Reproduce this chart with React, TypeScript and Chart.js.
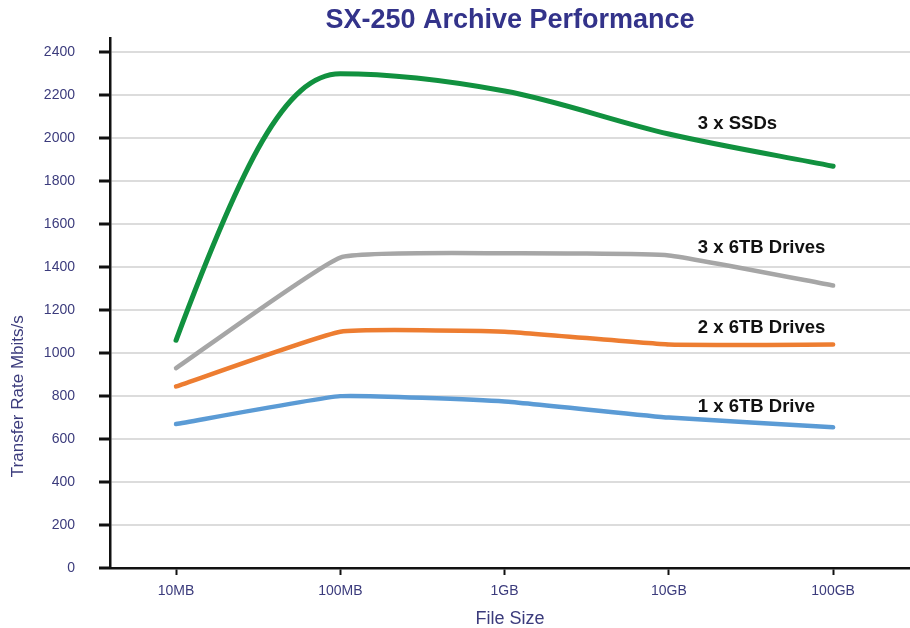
import React, { useEffect, useRef } from "react";
import { Chart, registerables } from "chart.js";

Chart.register(...registerables);

const categories = ["10MB", "100MB", "1GB", "10GB", "100GB"];
const ssd3 = [1060, 2300, 2220, 2020, 1870];
const hdd3 = [930, 1445, 1465, 1455, 1315];
const hdd2 = [845, 1100, 1100, 1040, 1040];
const hdd1 = [670, 800, 775, 700, 655];
const yTickValues = [0, 200, 400, 600, 800, 1000, 1200, 1400, 1600, 1800, 2000, 2200, 2400];
const seriesNames = ["3 x SSDs", "3 x 6TB Drives", "2 x 6TB Drives", "1 x 6TB Drive"];
const labelAnchors = [2065, 1488, 1116, 749];
const seriesColors = ["#11913f", "#a6a6a6", "#ed7d31", "#5b9bd5"];

const titleText = "SX-250 Archive Performance";
const xTitle = "File Size";
const yTitle = "Transfer Rate Mbits/s";

const FONT = "'Liberation Sans', Arial, Helvetica, sans-serif";
const NAVY = "#3b3b7c";

// Shapes the start of the smoothed SSD curve (steep launch, like the reference)
const curveShapePlugin = {
  id: "curveShape",
  beforeDatasetDraw(chart: any, args: any) {
    if (args.index !== 0) return;
    const line = args.meta.dataset;
    if (!line || !line.updateControlPoints) return;
    line.updateControlPoints(chart.chartArea, "x");
    const pts = line.points;
    if (!pts || pts.length < 2) return;
    const p0 = pts[0];
    const p1 = pts[1];
    const dx = p1.x - p0.x;
    const dy = p1.y - p0.y;
    p0.cp2x = p0.x + dx * 0.4;
    p0.cp2y = p0.y + dy * 0.66;
    line._path = undefined;
  },
};

const overlayPlugin = {
  id: "overlayText",
  afterDraw(chart: any) {
    const { ctx, chartArea, scales } = chart;
    ctx.save();
    ctx.font = `bold 18.5px ${FONT}`;
    ctx.fillStyle = "#111";
    ctx.textAlign = "left";
    ctx.textBaseline = "middle";
    const lx = scales.x.getPixelForValue(3) + 29;
    seriesNames.forEach((name, i) => {
      ctx.fillText(name, lx, scales.y.getPixelForValue(labelAnchors[i]));
    });
    ctx.translate(18, (chartArea.top + chartArea.bottom) / 2 + 93);
    ctx.rotate(-Math.PI / 2);
    ctx.font = `17px ${FONT}`;
    ctx.fillStyle = NAVY;
    ctx.textAlign = "center";
    ctx.textBaseline = "middle";
    ctx.fillText(yTitle, 0, 0);
    ctx.restore();
  },
};

export default function App() {
  const ref = useRef<HTMLCanvasElement | null>(null);

  useEffect(() => {
    if (!ref.current) return;
    Chart.defaults.font.family = FONT;
    const seriesData = [ssd3, hdd3, hdd2, hdd1];
    const chart = new Chart(ref.current, {
      type: "line",
      data: {
        datasets: seriesData.map((arr, i) => ({
          label: seriesNames[i],
          data: arr.map((v, j) => ({ x: j, y: v })),
          borderColor: seriesColors[i],
          backgroundColor: seriesColors[i],
          borderWidth: i === 0 ? 5 : 4.5,
          borderCapStyle: "round" as const,
          borderJoinStyle: "round" as const,
          pointRadius: 0,
          tension: i === 0 ? 0.4 : 0.12,
          cubicInterpolationMode: i === 0 ? ("monotone" as const) : ("default" as const),
          fill: false,
        })),
      },
      options: {
        animation: false,
        responsive: false,
        layout: { padding: 0 },
        plugins: {
          legend: { display: false },
          tooltip: { enabled: false },
          title: {
            display: true,
            text: titleText,
            color: "#33338a",
            fullSize: false,
            font: { family: FONT, size: 27, weight: "bold" },
            padding: { top: 4, bottom: 2 },
          },
        },
        scales: {
          x: {
            type: "linear",
            min: -0.402,
            max: 4.468,
            afterBuildTicks: (s: any) => {
              s.ticks = categories.map((_, i) => ({ value: i }));
            },
            afterFit: (s: any) => {
              s.height = 60;
            },
            ticks: {
              callback: (v: any) => categories[v as number] ?? "",
              color: NAVY,
              font: { size: 14 },
              padding: 8,
              autoSkip: false,
              maxRotation: 0,
            },
            grid: {
              drawOnChartArea: false,
              drawTicks: true,
              tickLength: 7,
              tickColor: "#111",
              tickWidth: 2,
            },
            border: { color: "#111", width: 2.5 },
            title: {
              display: true,
              text: xTitle,
              color: NAVY,
              font: { size: 18, lineHeight: 1 },
              padding: { top: 0, bottom: 0 },
            },
          },
          y: {
            min: 0,
            max: 2465,
            afterBuildTicks: (s: any) => {
              s.ticks = yTickValues.map((v) => ({ value: v }));
            },
            afterFit: (s: any) => {
              s.width = 110;
            },
            ticks: {
              callback: (v: any) => String(v),
              color: NAVY,
              font: { size: 14 },
              padding: 24,
            },
            grid: {
              color: "#dcdcdc",
              lineWidth: 2,
              tickLength: 11,
              tickColor: "#111",
              tickWidth: 3,
            },
            border: { color: "#111", width: 2.5 },
          },
        },
      } as any,
      plugins: [curveShapePlugin, overlayPlugin],
    });
    return () => chart.destroy();
  }, []);

  return (
    <div style={{ position: "fixed", left: 0, top: 0, width: 910, height: 628, background: "#fff" }}>
      <canvas ref={ref} width={910} height={628} style={{ display: "block" }} />
    </div>
  );
}
